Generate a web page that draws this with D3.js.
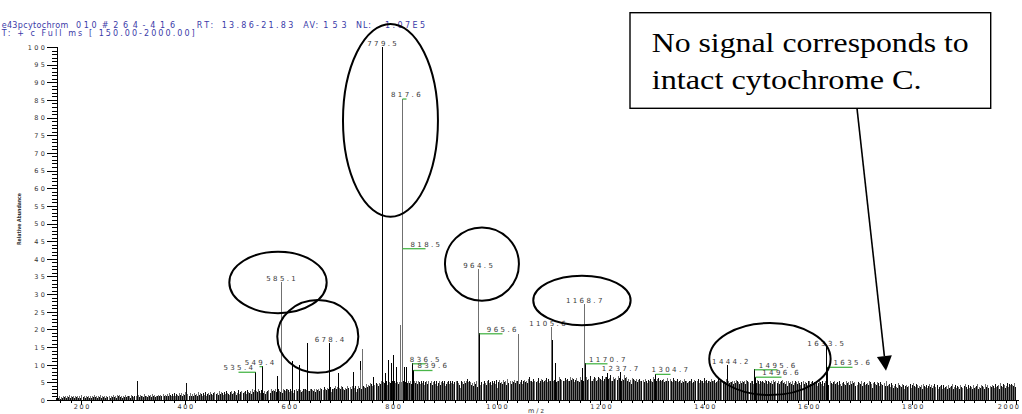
<!DOCTYPE html>
<html>
<head>
<meta charset="utf-8">
<script src="https://cdn.jsdelivr.net/npm/d3@7"></script>
<style>
  html, body { margin: 0; padding: 0; background: #fff; }
  svg { display: block; }
  .pre { white-space: pre; }
</style>
</head>
<body>
<svg id="chart" width="1022" height="414"></svg>
<script>
// ---- Spectrum values -------------------------------------------------------

// Labelled peaks (m/z and relative abundance, %)
const peakMz = [535.4, 549.4, 585.1, 678.4, 779.5, 817.6, 818.5, 836.5, 839.6,
                964.5, 965.6, 1105.6, 1168.7, 1170.7, 1237.7, 1304.7, 1444.2,
                1495.6, 1496.6, 1633.5, 1635.6];
const peakIntensity = [8.0, 9.6, 33.5, 16.1, 100, 85.4, 43.0, 10.4, 8.5,
                       37.0, 18.9, 20.8, 27.1, 10.4, 8.0, 7.4, 9.9,
                       8.7, 6.6, 14.9, 9.4];

// Unlabelled peaks standing above the baseline
const minorMz = [577, 606.4, 619, 635.2, 695, 724, 736.5, 738, 741.7, 762,
                 780.4, 786, 791, 796, 800.6, 807, 813.5, 821, 826,
                 1041, 1107, 1113, 1165, 1213];
const minorIntensity = [6.8, 11.1, 9.9, 16.1, 7.6, 8.0, 11.0, 8.5, 14.5, 6.6,
                        44.6, 7.6, 11.3, 10.4, 12.7, 9.4, 21.2, 9.4, 9.4,
                        18.6, 17.0, 10.4, 9.0, 7.6];

// Baseline signal: one base-36 digit every 2 m/z, in units of 0.25 %
const noiseStart = [150, 250, 350, 450, 550, 650, 750, 850, 950, 1050,
                    1150, 1250, 1350, 1450, 1550, 1650, 1750, 1850, 1950];
const noiseLevels = [
  "2324132435" + "2436243524" + "3524263425" + "3425243634" + "2536243524",
  "3524363526" + "4635243635" + "45264354m6" + "3645374536" + "4637463546",
  "5647465758" + "6475847658" + "685769j758" + "5748675968" + "7586957869",
  "7689786a79" + "8697a8769a" + "78a968b79a" + "89a7b98a7c" + "9b8a9ca8b9",
  "8a79ab8cab" + "ac9bda9b8c" + "bacdb9cad8" + "bdacab9acd" + "cbdaacdbac",
  "9cbdaecbfd" + "becaf9cdeg" + "dfcedgfcbe" + "cgefdgfeg9" + "dgefchgfei",
  "fhgjigkhji" + "gjilhkjglh" + "hkjfmiljhk" + "iklkmhkljm" + "jlimkljmil",
  "kimjlhkmil" + "jlhkmilgjm" + "hkmjlgikli" + "ljmiklmjhe" + "mkiljmokmk",
  "hjgkilfjih" + "kimjhlnjkh" + "mjlineknjk" + "inkmhojlim" + "knjlmoikni",
  "lnkmjoqlmk" + "omklpjmonk" + "mnpkolmjpm" + "noklmqonlm" + "pnomlqnpok",
  "nplmkqnolp" + "oqnorlmoqp" + "mnqponrloq" + "qnopslmqop" + "nrpqmonspq",
  "mokniponlo" + "knolmnkolj" + "nlomkqolmo" + "plnmnokmlp" + "molkpnlmok",
  "lnjlkolmjk" + "mlojknlmoj" + "nlmjplnjml" + "kolmnjklom" + "lnjmkolmjk",
  "klimjnlkim" + "jlkminlkjm" + "limkjnlimk" + "mkjnlimkjl" + "inkljmikln",
  "jkilgmjkil" + "hjmkiljhkm" + "ikjhlmikli" + "kimgjlkimg" + "jlikhljikm",
  "ijkhligjki" + "hljkhmiljk" + "ghkjilgjkh" + "ijhlkiejki" + "hkjgkihjgl",
  "ghifjhegif" + "ejhgfihdgh" + "fgiehjgfih" + "egfhdigfhe" + "gifhegifhd",
  "fghdhefgdh" + "efgidfhegf" + "dhfegifdhe" + "gfdhefgidf" + "ehgfdifheg",
  "fhgeifghdj" + "gfihegjfih" + "ihgjf"
];

// Axis ticks
const xMajorTicks = [200, 400, 600, 800, 1000, 1200, 1400, 1600, 1800, 2000];
const yMajorTicks = [0, 5, 10, 15, 20, 25, 30, 35, 40, 45, 50, 55, 60, 65, 70, 75, 80, 85, 90, 95, 100];

// Hand-drawn ellipses around peak groups: centre (m/z, %) and radii (m/z, %)
const ringMz = [795.8, 579.3, 655.9, 971.9, 1164.4, 1526.3];
const ringIntensity = [79.2, 33.3, 18.0, 38.5, 28.2, 11.6];
const ringRadiusMz = [91.4, 93.7, 78.0, 71.2, 93.7, 116.8];
const ringRadiusIntensity = [27.3, 8.7, 10.3, 10.4, 7.0, 10.2];

// ---- Layout & style --------------------------------------------------------

const labelShift = { "535.4": -17, "549.4": -3, "817.6": 4, "818.5": 23, "836.5": 13,
  "839.6": 19, "965.6": 23, "1105.6": -4, "1170.7": 22, "1304.7": 15,
  "1444.2": 3, "1495.6": 23, "1496.6": 26, "1635.6": 25 };
const leaderLabels = new Set(["535.4", "549.4", "817.6", "818.5", "836.5", "839.6",
  "965.6", "1170.7", "1304.7", "1495.6", "1496.6", "1635.6"]);
const greyPeaks = new Set([817.6, 818.5, 964.5, 1105.6, 1168.7, 585.1, 813.5, 741.7, 738, 1041]);

const svg = d3.select("#chart");
const x = d3.scaleLinear().domain([150, 2000]).range([55, 1016]);
const y = d3.scaleLinear().domain([0, 100]).range([400, 47]);
const px = v => Math.round(x(v)) + 0.5;

// ---- Header ---------------------------------------------------------------
const header = svg.append("g")
  .attr("font-family", "DejaVu Sans, Arial, sans-serif")
  .attr("font-size", 8)
  .attr("fill", "#3a3aa8");
[
  ["e43pcytochrom", 1.7, 66.6], ["010", 76, 20.7], ["#264-416", 101.7, 73.3],
  ["RT:", 196.7, 16.6], ["13.86-21.83", 221.7, 71.6],
  ["AV:", 303.3, 15], ["153", 323.3, 23.4],
  ["NL:", 356, 15], ["1.07E5", 385, 40]
].forEach(([t, tx, len]) => {
  header.append("text").attr("x", tx).attr("y", 27.5)
    .attr("textLength", len).attr("lengthAdjust", "spacing").text(t);
});
header.append("text").attr("class", "pre").attr("x", 1.7).attr("y", 36)
  .attr("textLength", 193).attr("lengthAdjust", "spacing")
  .text("T: + c Full ms [ 150.00-2000.00]");

// ---- Baseline signal --------------------------------------------------------
const noise = [];
noiseLevels.forEach((s, k) => {
  for (let i = 0; i < s.length; i++) {
    noise.push({ mz: noiseStart[k] + i * 2 + 1, v: parseInt(s[i], 36) * 0.25 });
  }
});
svg.append("g").attr("shape-rendering", "crispEdges")
  .selectAll("line").data(noise).join("line")
  .attr("x1", d => px(d.mz)).attr("x2", d => px(d.mz))
  .attr("y1", y(0)).attr("y2", d => y(d.v))
  .attr("stroke", (d, i) => i % 2 ? "#6e6e6e" : "#0e0e0e")
  .attr("stroke-width", 1);

// ---- Peaks ----------------------------------------------------------------
const minor = minorMz.map((m, i) => ({ mz: m, v: minorIntensity[i] }));
const peaks = peakMz.map((m, i) => ({ mz: m, v: peakIntensity[i], label: m.toFixed(1) }));
const peakColor = d => greyPeaks.has(d.mz) ? "#707070" : "#000";

svg.append("g").attr("shape-rendering", "crispEdges")
  .selectAll("line").data(minor.concat([...peaks].sort((a, b) => a.v - b.v))).join("line")
  .attr("x1", d => px(d.mz)).attr("x2", d => px(d.mz))
  .attr("y1", y(0)).attr("y2", d => y(d.v))
  .attr("stroke", peakColor).attr("stroke-width", 1);

// ---- Peak labels ----------------------------------------------------------
const labelLS = 2.4;
const labels = svg.append("g");
peaks.forEach(d => {
  const shift = labelShift[d.label] || 0;
  const top = y(d.v);
  const lead = leaderLabels.has(d.label);
  if (lead) {
    labels.append("line")
      .attr("x1", px(d.mz)).attr("x2", px(d.mz) + shift)
      .attr("y1", top + 0.5).attr("y2", top + 0.5)
      .attr("stroke", "#49b649").attr("stroke-width", 1.3);
  }
  labels.append("text")
    .attr("x", x(d.mz) + shift + labelLS / 2)
    .attr("y", lead ? top - 1.5 : top - 1)
    .attr("text-anchor", "middle")
    .attr("font-family", "DejaVu Sans, Arial, sans-serif")
    .attr("font-size", 7)
    .attr("letter-spacing", labelLS)
    .attr("fill", "#3a3a3a")
    .text(d.label);
});

// ---- Axes -----------------------------------------------------------------
const tickFont = (g, ls) => g.selectAll("text")
  .attr("font-family", "DejaVu Sans, Arial, sans-serif")
  .attr("font-size", 6.5).attr("fill", "#333").attr("letter-spacing", ls);

const xMinor = svg.append("g").attr("transform", `translate(0,${y(0)})`)
  .call(d3.axisBottom(x).tickValues(d3.range(160, 2001, 20)).tickSize(3).tickSizeOuter(0).tickFormat(""));
xMinor.select(".domain").remove();
const xMajor = svg.append("g").attr("transform", `translate(0,${y(0)})`)
  .call(d3.axisBottom(x).tickValues(xMajorTicks).tickSize(5).tickSizeOuter(0).tickFormat(d3.format("d")));
xMajor.select(".domain").remove();
tickFont(xMajor, 1.6);
xMajor.selectAll("text").attr("y", 8.7).attr("dy", 0).attr("dx", 0.8);
// keep the last label inside the frame
xMajor.selectAll(".tick").filter(d => d === 2000).select("text")
  .attr("text-anchor", "end").attr("x", 2.5).attr("dx", 1.6);

svg.append("line").attr("x1", 57).attr("x2", 1019)
  .attr("y1", y(0) + 0.5).attr("y2", y(0) + 0.5)
  .attr("stroke", "#000").attr("shape-rendering", "crispEdges");

const yMinor = svg.append("g").attr("transform", "translate(57,0)")
  .call(d3.axisLeft(y).tickValues(d3.range(0, 101, 1)).tickSize(5).tickSizeOuter(0).tickFormat(""));
yMinor.select(".domain").remove();
const yMajor = svg.append("g").attr("transform", "translate(57,0)")
  .call(d3.axisLeft(y).tickValues(yMajorTicks).tickSize(10).tickPadding(2).tickSizeOuter(0));
tickFont(yMajor, 2.4);
yMajor.selectAll("text").attr("dx", 2.4).attr("dy", "0.36em");
yMajor.select(".domain").attr("d", `M0.5,${y(100)}V${y(0) + 0.5}`);

svg.selectAll(".tick line").attr("shape-rendering", "crispEdges");

// Axis titles
svg.append("text")
  .attr("transform", "translate(21,219) rotate(-90)")
  .attr("text-anchor", "middle")
  .attr("font-family", "DejaVu Sans, Arial, sans-serif")
  .attr("font-size", 5.5).attr("font-weight", "bold").attr("fill", "#333")
  .attr("textLength", 52).attr("lengthAdjust", "spacingAndGlyphs")
  .text("Relative Abundance");
svg.append("text")
  .attr("x", 537).attr("y", 413)
  .attr("text-anchor", "middle")
  .attr("font-family", "DejaVu Sans, Arial, sans-serif")
  .attr("font-size", 6.5).attr("letter-spacing", 2).attr("fill", "#333")
  .text("m/z");

// ---- Ellipses around peak groups --------------------------------------------
svg.append("g").selectAll("ellipse")
  .data(ringMz.map((m, i) => ({ mz: m, v: ringIntensity[i], rm: ringRadiusMz[i], rv: ringRadiusIntensity[i] })))
  .join("ellipse")
  .attr("cx", d => x(d.mz)).attr("cy", d => y(d.v))
  .attr("rx", d => x(d.mz + d.rm) - x(d.mz))
  .attr("ry", d => y(0) - y(d.rv))
  .attr("fill", "none").attr("stroke", "#000").attr("stroke-width", 2);

// ---- Callout ------------------------------------------------------------------
const callout = { x: 630, y: 12.7, w: 360.7, h: 95.6 };
svg.append("rect")
  .attr("x", callout.x).attr("y", callout.y)
  .attr("width", callout.w).attr("height", callout.h)
  .attr("fill", "#fff").attr("stroke", "#000").attr("stroke-width", 1.4);
const serif = "Liberation Serif, Times New Roman, serif";
svg.append("text").attr("x", 651.7).attr("y", 51.7)
  .attr("font-family", serif).attr("font-size", 28).attr("fill", "#000")
  .attr("textLength", 317).attr("lengthAdjust", "spacingAndGlyphs")
  .text("No signal corresponds to");
svg.append("text").attr("x", 651.7).attr("y", 89.3)
  .attr("font-family", serif).attr("font-size", 28).attr("fill", "#000")
  .attr("textLength", 270).attr("lengthAdjust", "spacingAndGlyphs")
  .text("intact cytochrome C.");

// Arrow from the callout down to the high-mass region
const arrowFrom = [857, callout.y + callout.h];
const arrowTip = [886, 370.7];
const dxA = arrowTip[0] - arrowFrom[0], dyA = arrowTip[1] - arrowFrom[1];
const len = Math.hypot(dxA, dyA), ux = dxA / len, uy = dyA / len;
const headL = 14.7, headW = 7.5;
const base = [arrowTip[0] - ux * headL, arrowTip[1] - uy * headL];
svg.append("line")
  .attr("x1", arrowFrom[0]).attr("y1", arrowFrom[1])
  .attr("x2", base[0]).attr("y2", base[1])
  .attr("stroke", "#000").attr("stroke-width", 1.6);
svg.append("polygon")
  .attr("points", [
    arrowTip,
    [base[0] + uy * headW, base[1] - ux * headW],
    [base[0] - uy * headW, base[1] + ux * headW]
  ].map(p => p.join(",")).join(" "))
  .attr("fill", "#000");
</script>
</body>
</html>
